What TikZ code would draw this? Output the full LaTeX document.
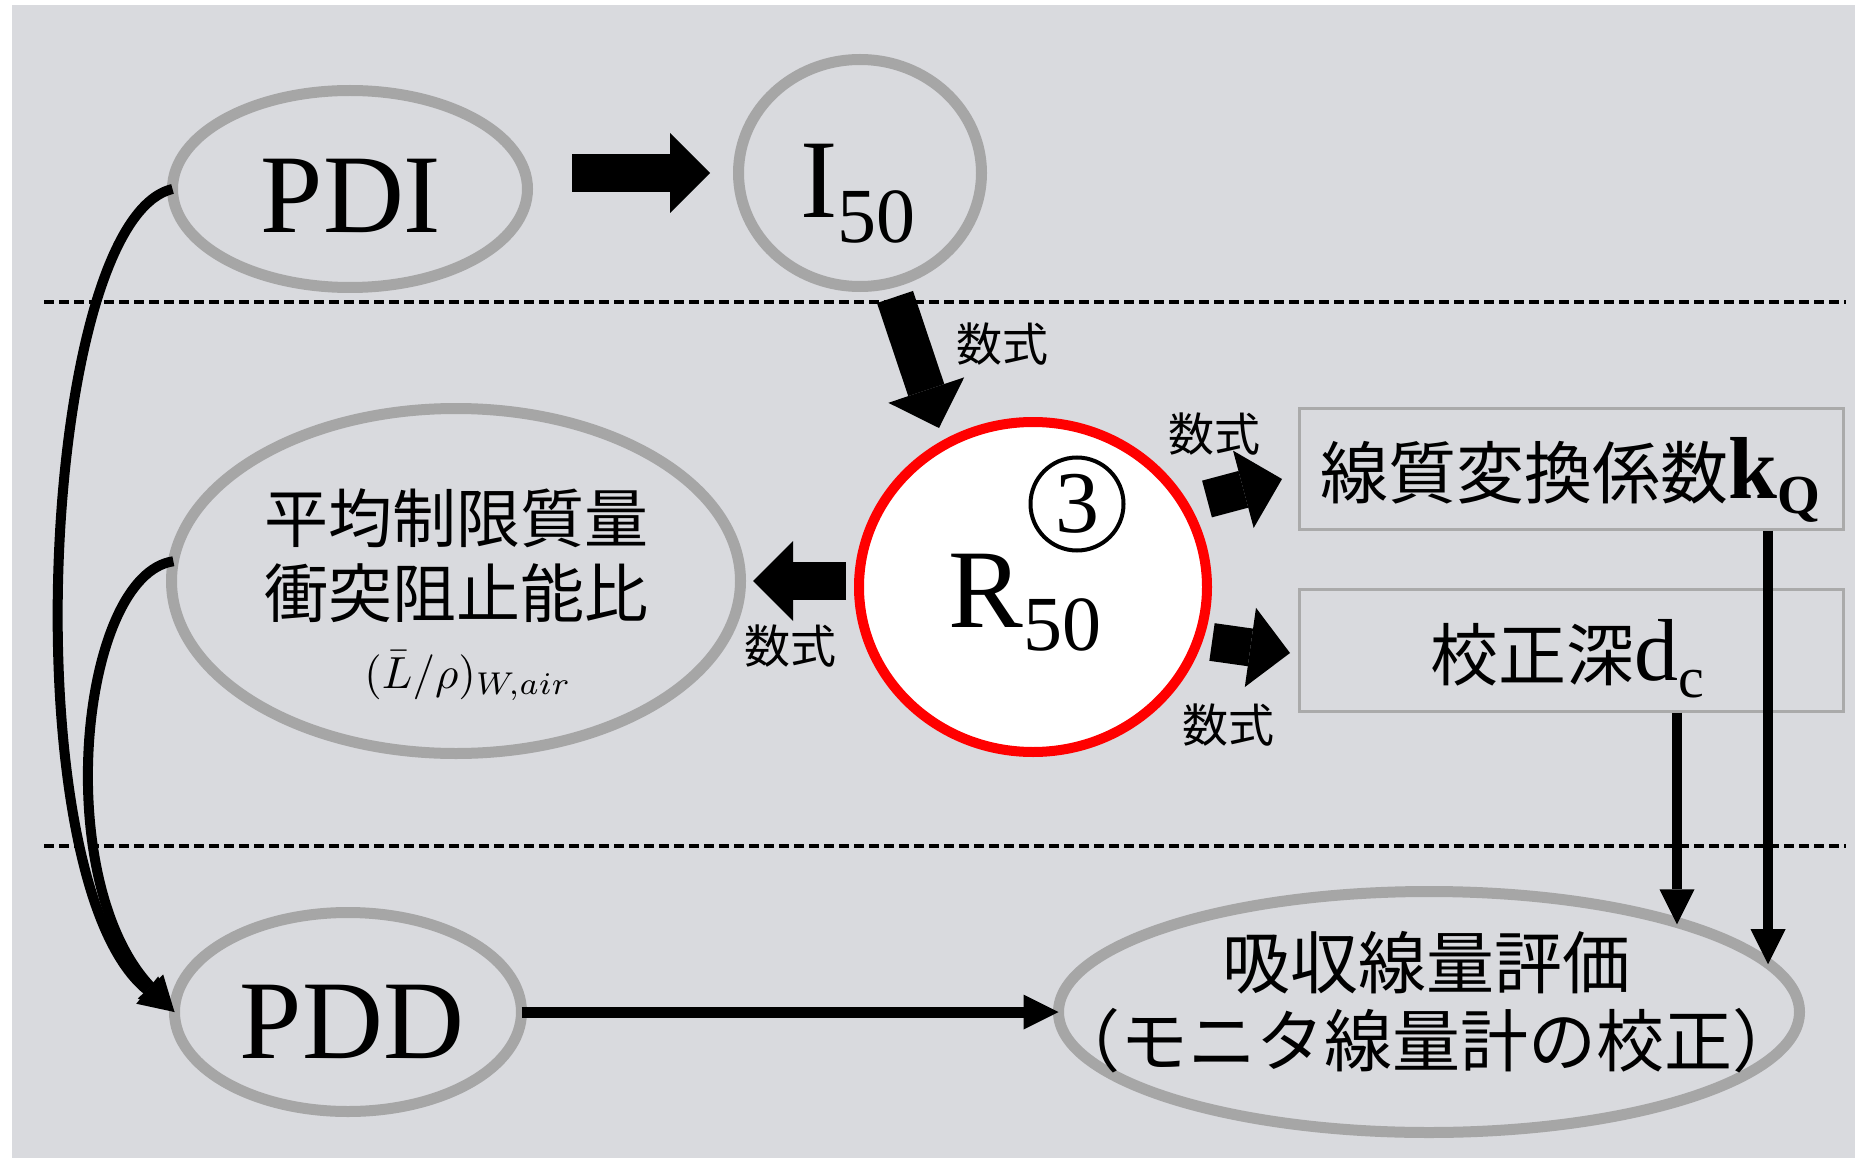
\documentclass[tikz,border=0pt]{standalone}
\usepackage{graphicx}
\usepackage{fontspec}
\setmainfont{Liberation Serif}
\newfontfamily\cjk{Noto Sans CJK JP}
\usetikzlibrary{arrows.meta,shapes.geometric,calc}
\definecolor{bgc}{RGB}{217,218,222}
\definecolor{ringgray}{RGB}{166,166,166}
\definecolor{boxgray}{RGB}{170,170,170}
\newcommand\fs[1]{\fontsize{#1}{#1}\selectfont}
\begin{document}
\begin{tikzpicture}[x=1pt,y=-1pt,
  ring/.style={ellipse, draw=ringgray, line width=11pt, inner sep=0pt, outer sep=0pt},
  infobox/.style={rectangle, draw=boxgray, line width=3pt, inner sep=0pt},
  blockarr/.style={line width=38pt, -{Triangle[length=40pt,width=80pt,line width=0pt]}},
  thinarr/.style={line width=10pt, -{Triangle[length=35pt,width=35pt,line width=0pt]}},
  sepline/.style={line width=4pt, dash pattern=on 10pt off 5pt},
  lbl/.style={inner sep=0pt, font=\cjk\fs{46}},
  txt/.style={inner sep=0pt, anchor=base},
  cjkline/.style={txt, text height=54pt, text depth=6pt},
]
\useasboundingbox (0,0) rectangle (1855,1158);
\fill[bgc] (12,5) rectangle (1855,1158);

% separators
\draw[sepline] (44,302) -- (1846,302);
\draw[sepline] (44,846) -- (1846,846);

% shapes
\node[ring, minimum width=355pt, minimum height=197pt] (pdi) at (350,189) {};
\node[ring, minimum width=243pt, minimum height=227pt] (i50) at (860,173) {};
\node[ring, minimum width=569pt, minimum height=345pt] (avg) at (456,581) {};
\node[ellipse, draw=red, fill=white, line width=10pt, inner sep=0pt, outer sep=0pt,
      minimum width=348pt, minimum height=330pt] (r50) at (1033,587) {};
\node[ring, minimum width=347pt, minimum height=199pt] (pdd) at (348,1012) {};
\node[ring, minimum width=741pt, minimum height=241pt] (kyu) at (1429,1012) {};
\node[infobox, minimum width=544pt, minimum height=121pt] (kq) at (1571,468.5) {};
\node[infobox, minimum width=544pt, minimum height=122pt] (dc) at (1571,650) {};
\node[circle, draw=black, line width=4pt, minimum size=93pt, inner sep=0pt] (three) at (1077,504) {\fs{88}3};

% texts
\node[txt] (pdit) at (351,233) {\fs{112}PDI};
\node[txt] (i50t) at (858,218) {\fs{112}I\fs{78}\raisebox{-25pt}{50}};
\node[txt] (r50t) at (1025,627) {\fs{112}R\fs{78}\raisebox{-23pt}{50}};
\node[txt] (pddt) at (352,1058) {\fs{112}PDD};
\node[txt, anchor=base west] (kqt) at (1320,498) {{\cjk\fs{68}線質変換係数}\fs{88}\textbf{k}\fs{55}\raisebox{-15pt}{\textbf{Q}}};
\node[txt, anchor=base west] (dct) at (1430,680) {{\cjk\fs{68}校正深}\fs{88}d\fs{58}\raisebox{-17pt}{c}};
\node[cjkline] (avg1) at (456,542) {\cjk\fs{64}平均制限質量};
\node[cjkline] (avg2) at (456,617) {\cjk\fs{64}衝突阻止能比};
\node[txt] (avg3) at (468,688) {\scalebox{4.5}{\fs{10}$(\bar{L}/\rho)_{W,air}$}};
\node[cjkline] (kyu1) at (1426,988) {\cjk\fs{68}吸収線量評価};
\node[cjkline] (kyu2) at (1426,1066) {\cjk\fs{68}（モニタ線量計の校正）};

% formula labels
\node[lbl] (f1) at (1002,344) {数式};
\node[lbl] (f2) at (1214,434) {数式};
\node[lbl] (f3) at (790,646) {数式};
\node[lbl] (f4) at (1228,725) {数式};

% block arrows
\coordinate (a1s) at (572,173); \coordinate (a1e) at (710,173);
\coordinate (a2s) at (895,297); \coordinate (a2e) at (939,428);
\coordinate (a3s) at (846,581); \coordinate (a3e) at (753,581);
\coordinate (a4s) at (1207,499); \coordinate (a4e) at (1282,479);
\coordinate (a5s) at (1212,642); \coordinate (a5e) at (1290,653);
\draw[blockarr] (a1s) -- (a1e);
\draw[blockarr] (a2s) -- (a2e);
\draw[blockarr] (a3s) -- (a3e);
\draw[blockarr] (a4s) -- (a4e);
\draw[blockarr] (a5s) -- (a5e);

% curved arrows to PDD
\draw[thinarr] (pdi.west) .. controls (40,220) and (10,880) .. (pdd.west);
\draw[thinarr] (avg.176) .. controls (80,575) and (50,880) .. (pdd.west);

% PDD to absorbed dose
\draw[thinarr, line width=11pt] (pdd.east) -- (kyu.west);

% vertical arrows
\coordinate (xk) at (1768,0);
\coordinate (xd) at (1677,0);
\draw[thinarr] (kq.south -| xk) -- (kyu.8.2 -| xk);
\draw[thinarr] (dc.south -| xd) -- (kyu.19.8 -| xd);
\end{tikzpicture}
\end{document}
